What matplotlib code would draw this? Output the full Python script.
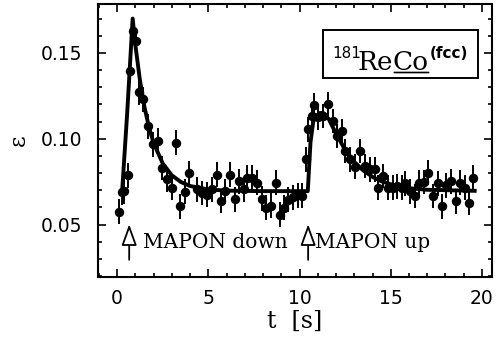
#!/usr/bin/env python3

import matplotlib
matplotlib.use("Agg")
import matplotlib.pyplot as plt
from matplotlib.patches import Rectangle
from matplotlib.ticker import MultipleLocator, FormatStrFormatter

# measured points (time in s, asymmetry eps)
t_data = [0.10, 0.27, 0.38, 0.57, 0.72, 0.85, 1.02, 1.20, 1.42, 1.68,
          1.94, 2.22, 2.48, 2.73, 3.00, 3.24, 3.47, 3.74, 3.95, 4.37,
          4.64, 4.91, 5.19, 5.46, 5.70, 5.92, 6.19, 6.47, 6.70, 6.93,
          7.14, 7.38, 7.65, 7.93, 8.16, 8.42, 8.70, 8.93, 9.15, 9.39,
          9.66, 9.93, 10.15, 10.33, 10.48, 10.67, 10.79, 11.03, 11.30, 11.58,
          11.82, 12.04, 12.31, 12.49, 12.77, 13.04, 13.32, 13.59, 13.86, 14.14,
          14.32, 14.59, 14.87, 15.14, 15.32, 15.60, 15.78, 16.05, 16.33, 16.57,
          16.82, 17.06, 17.30, 17.57, 17.79, 18.03, 18.28, 18.56, 18.79, 19.07,
          19.29, 19.52]
eps_data = [0.0576, 0.0689, 0.0695, 0.0787, 0.1395, 0.1630, 0.1570, 0.1270, 0.1230, 0.1072,
            0.0967, 0.0988, 0.0830, 0.0763, 0.0716, 0.0978, 0.0607, 0.0692, 0.0800, 0.0705,
            0.0685, 0.0675, 0.0705, 0.0790, 0.0637, 0.0695, 0.0790, 0.0648, 0.0753, 0.0705,
            0.0773, 0.0773, 0.0744, 0.0652, 0.0598, 0.0611, 0.0744, 0.0558, 0.0598, 0.0646,
            0.0660, 0.0670, 0.0668, 0.0880, 0.1056, 0.1133, 0.1196, 0.1124, 0.1133, 0.1202,
            0.1104, 0.1016, 0.1045, 0.0929, 0.0880, 0.0837, 0.0929, 0.0841, 0.0822, 0.0822,
            0.0715, 0.0783, 0.0715, 0.0715, 0.0724, 0.0715, 0.0740, 0.0695, 0.0666, 0.0744,
            0.0748, 0.0802, 0.0666, 0.0740, 0.0607, 0.0728, 0.0753, 0.0636, 0.0744, 0.0715,
            0.0627, 0.0773]
eps_err = 0.0072

# fitted curve
t_fit = [0.27, 0.55, 0.85, 1.0, 1.25, 1.5, 1.75, 2.0, 2.5, 3.0,
         3.5, 4.0, 5.0, 6.0, 8.0, 10.45, 10.6, 10.75, 10.9, 11.1,
         11.3, 11.6, 12.0, 12.5, 13.0, 13.5, 14.0, 14.5, 15.0, 16.0,
         17.0, 19.6]
eps_fit = [0.069, 0.115, 0.170, 0.1545, 0.134, 0.1183, 0.1065, 0.0975, 0.0856, 0.0787,
           0.0748, 0.0725, 0.0705, 0.0698, 0.0695, 0.0695, 0.098, 0.110, 0.113, 0.115,
           0.115, 0.1115, 0.103, 0.0935, 0.0865, 0.0815, 0.0778, 0.0752, 0.0735, 0.0712,
           0.0703, 0.0697]

arrow_t = [0.66, 10.47]
arrow_labels = ["MAPON down", "MAPON up"]
label_t = [1.42, 10.85]

W, H = 498, 339
AX_L, AX_R, AX_T, AX_B = 98, 492, 4, 277
SERIF = "DejaVu Serif"


def pix(x, y):
    """pixel position in the figure -> axes fraction"""
    return (x - AX_L) / (AX_R - AX_L), (AX_B - y) / (AX_B - AX_T)


fig = plt.figure(figsize=(W / 100, H / 100), dpi=100)
ax = fig.add_axes([AX_L / W, 1 - AX_B / H, (AX_R - AX_L) / W, (AX_B - AX_T) / H])

ax.plot(t_fit, eps_fit, color="black", lw=2.8, solid_joinstyle="round", zorder=2)
ax.errorbar(t_data, eps_data, yerr=eps_err, fmt="o", color="black", ms=5.8,
            elinewidth=1.4, capsize=0, zorder=3)

ax.set_xlim(-1.05, 20.55)
ax.set_ylim(0.0195, 0.1785)

ax.xaxis.set_major_locator(MultipleLocator(5))
ax.xaxis.set_minor_locator(MultipleLocator(1))
ax.yaxis.set_major_locator(MultipleLocator(0.05))
ax.yaxis.set_minor_locator(MultipleLocator(0.01))
ax.yaxis.set_major_formatter(FormatStrFormatter("%.2f"))

ax.tick_params(which="both", direction="in", top=True, right=True, width=1.2,
               labelsize=13.5)
ax.tick_params(which="major", length=6)
ax.tick_params(which="minor", length=3)
ax.tick_params(axis="x", pad=9)
ax.tick_params(axis="y", pad=11)
for s in ax.spines.values():
    s.set_linewidth(1.5)

ax.set_xlabel("t  [s]", family=SERIF, fontsize=17, labelpad=1)
ax.set_ylabel("\u03b5", family=SERIF, fontsize=16, labelpad=8)

# MAPON arrows
for t0, lab, tl in zip(arrow_t, arrow_labels, label_t):
    ax.annotate("", xy=(t0, 0.0502), xytext=(t0, 0.0295),
                arrowprops=dict(arrowstyle="-|>,head_length=1.3,head_width=0.47",
                                fc="white", ec="black", lw=1.3,
                                mutation_scale=10, shrinkA=0, shrinkB=0))
    ax.text(tl, 0.0365, lab, family=SERIF, fontsize=14.5, va="baseline", ha="left")

# sample label box
x0, y0 = pix(323, 78)
x1, y1 = pix(478, 30)
ax.add_patch(Rectangle((x0, y0), x1 - x0, y1 - y0, transform=ax.transAxes,
                       fill=False, lw=1.4, ec="black", zorder=4))
ax.text(*pix(332, 58), "181", fontsize=11, ha="left", va="baseline",
        transform=ax.transAxes)
t_re = ax.text(*pix(357, 70), "Re", family=SERIF, fontsize=19, ha="left",
               va="baseline", transform=ax.transAxes)
t_co = ax.annotate("Co", xy=(1, 0), xycoords=t_re, family=SERIF, fontsize=19,
                   ha="left", va="bottom")
ax.annotate("", xy=(1.0, 0.1), xycoords=t_co, xytext=(0.05, 0.1), textcoords=t_co,
            arrowprops=dict(arrowstyle="-", lw=1.2, shrinkA=0, shrinkB=0))
ax.annotate("(fcc)", xy=(1.02, 0.55), xycoords=t_co, fontsize=11, fontweight="bold",
            ha="left", va="bottom")

fig.savefig("out.png", dpi=100)
